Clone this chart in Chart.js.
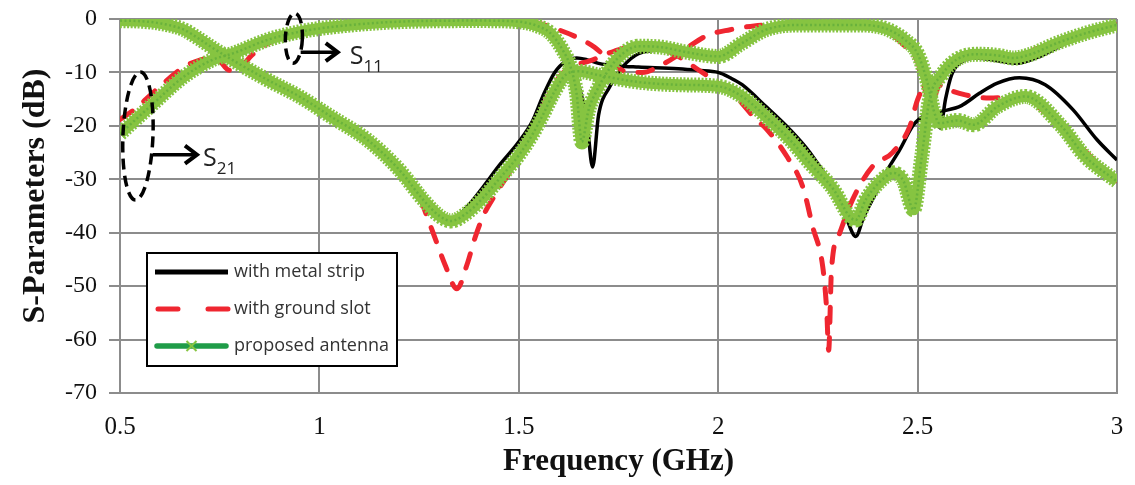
<!DOCTYPE html>
<html>
<head>
<meta charset="utf-8">
<script src="https://cdn.jsdelivr.net/npm/chart.js@4.4.0/dist/chart.umd.min.js"></script>
<style>
  html, body { margin: 0; padding: 0; background: #fff; }
  #wrap { width: 1135px; height: 485px; }
</style>
</head>
<body>
<div id="wrap"><canvas id="chart" width="1135" height="485"></canvas></div>
<script>
// values: [frequency GHz, dB]
const freqTicks = [0.5, 1, 1.5, 2, 2.5, 3];
const dbTicks = [0, -10, -20, -30, -40, -50, -60, -70];
const legendNames = ['with metal strip', 'with ground slot', 'proposed antenna'];

const metalS11 = [[0.50,-0.3],[0.55,-0.4],[0.60,-0.9],[0.66,-2.1],[0.70,-3.9],[0.73,-5.4],[0.785,-7.9],[0.87,-11.4],[0.95,-14.5],[1.03,-18.3],[1.12,-22.6],[1.20,-28.2],[1.26,-33.6],[1.30,-36.6],[1.33,-37.8],[1.37,-35.2],[1.41,-31.5],[1.45,-27.5],[1.50,-23],[1.535,-19],[1.56,-14.5],[1.59,-10],[1.62,-7.8],[1.645,-7.3],[1.67,-7.6],[1.70,-8.3],[1.75,-8.8],[1.80,-9.0],[1.90,-9.3],[1.95,-9.6],[2.00,-10],[2.03,-11],[2.06,-12.3],[2.12,-16.4],[2.18,-20.7],[2.23,-25],[2.29,-32],[2.32,-37],[2.345,-40.7],[2.365,-37],[2.387,-33.8],[2.42,-28.8],[2.455,-24.5],[2.49,-19.8],[2.52,-18],[2.56,-17.3],[2.61,-16.2],[2.655,-13.9],[2.70,-12],[2.755,-11],[2.82,-12.3],[2.89,-17],[2.95,-22.6],[3.00,-26.4]];
const metalS21 = [[0.50,-21.5],[0.575,-16.4],[0.66,-10.8],[0.73,-7.5],[0.785,-6.2],[0.87,-3.9],[0.95,-2.4],[1.03,-1.5],[1.20,-0.5],[1.40,-0.3],[1.50,-0.5],[1.55,-1.3],[1.58,-2.5],[1.61,-5.5],[1.63,-8.5],[1.65,-12.5],[1.67,-18.5],[1.685,-27.7],[1.70,-18],[1.728,-12.7],[1.76,-9],[1.80,-6.5],[1.86,-5.8],[1.92,-6.7],[2.00,-7.6],[2.06,-5],[2.12,-2.3],[2.20,-1.2],[2.35,-1.1],[2.42,-2],[2.47,-4.5],[2.50,-7],[2.525,-12],[2.545,-18],[2.557,-20.4],[2.57,-15],[2.585,-10.5],[2.61,-8],[2.65,-7.3],[2.70,-7.8],[2.75,-8.3],[2.80,-7.2],[2.87,-4.6],[2.93,-2.7],[3.00,-1.3]];

const slotS11 = [[0.50,-0.3],[0.55,-0.4],[0.60,-0.8],[0.66,-2.0],[0.70,-3.8],[0.73,-5.3],[0.785,-7.8],[0.87,-11.4],[0.95,-14.5],[1.03,-18.3],[1.12,-22.6],[1.20,-28.2],[1.244,-32],[1.27,-37],[1.29,-41],[1.315,-46],[1.345,-50.5],[1.37,-46],[1.39,-41],[1.41,-37],[1.44,-33],[1.47,-29.5],[1.50,-26],[1.54,-20],[1.57,-15],[1.60,-11],[1.63,-9],[1.68,-7.8],[1.74,-6],[1.80,-5],[1.85,-5.4],[1.90,-7],[1.95,-9.5],[2.00,-12],[2.036,-13.9],[2.096,-18.9],[2.12,-20.5],[2.172,-25.7],[2.212,-31.4],[2.237,-38.9],[2.262,-46.3],[2.272,-54.4],[2.277,-62],[2.284,-47],[2.305,-40],[2.337,-33.8],[2.387,-27.6],[2.437,-25],[2.48,-20.2],[2.50,-15.1],[2.53,-11.4],[2.57,-13],[2.62,-14.2],[2.68,-14.8],[2.75,-14.5],[2.82,-17.5],[2.89,-22.5],[2.95,-27],[3.00,-30.5]];
const slotS21 = [[0.50,-18.8],[0.535,-17],[0.59,-13.3],[0.66,-9],[0.70,-7.7],[0.74,-7.3],[0.775,-9.6],[0.80,-9.2],[0.83,-6.8],[0.87,-4.6],[0.95,-2.6],[1.03,-1.5],[1.20,-0.5],[1.40,-0.3],[1.50,-0.4],[1.55,-0.8],[1.58,-1.5],[1.645,-3.4],[1.69,-5.3],[1.74,-8.6],[1.77,-9.9],[1.81,-10],[1.86,-8.5],[1.89,-7.2],[1.93,-5],[1.975,-3],[2.03,-2],[2.09,-1.3],[2.20,-1],[2.35,-1.1],[2.42,-2.2],[2.47,-5.2],[2.50,-8],[2.52,-13.5],[2.535,-16],[2.55,-13],[2.575,-9],[2.61,-7],[2.68,-6.5],[2.74,-7.3],[2.80,-5.5],[2.87,-3.8],[2.93,-2.3],[3.00,-1.1]];

const propS11 = [[0.50,-0.3],[0.55,-0.4],[0.60,-0.8],[0.66,-2.0],[0.70,-3.8],[0.73,-5.3],[0.785,-7.8],[0.87,-11.4],[0.95,-14.5],[1.03,-18.3],[1.12,-22.6],[1.20,-28.2],[1.26,-33.8],[1.30,-36.8],[1.33,-37.8],[1.37,-36.3],[1.41,-33.5],[1.45,-30],[1.50,-25.5],[1.535,-21.5],[1.56,-18],[1.59,-13.5],[1.62,-10.3],[1.65,-9.8],[1.70,-10.5],[1.80,-11.8],[1.90,-12.3],[2.00,-12.6],[2.06,-14.5],[2.12,-18.3],[2.18,-22.6],[2.23,-27],[2.29,-32],[2.33,-37],[2.345,-37.6],[2.37,-33.8],[2.42,-29.5],[2.44,-28.8],[2.465,-30.4],[2.49,-35.7],[2.51,-26],[2.53,-15],[2.56,-10.5],[2.60,-7.5],[2.65,-6.6],[2.70,-6.8],[2.74,-7.3],[2.78,-6.7],[2.85,-4.5],[2.92,-2.7],[3.00,-1.1]];
const propS21 = [[0.50,-21.5],[0.575,-16.4],[0.66,-10.8],[0.73,-7.7],[0.785,-6.4],[0.87,-3.9],[0.95,-2.4],[1.03,-1.5],[1.20,-0.5],[1.40,-0.3],[1.50,-0.5],[1.55,-1.4],[1.58,-2.7],[1.61,-5.8],[1.63,-9],[1.645,-14],[1.658,-23],[1.675,-17],[1.695,-13.5],[1.73,-9],[1.76,-6.5],[1.80,-5.1],[1.86,-5.3],[1.92,-6.2],[2.00,-7],[2.06,-4.5],[2.12,-2],[2.20,-1.1],[2.35,-1.1],[2.42,-1.8],[2.47,-4],[2.50,-6.5],[2.525,-12],[2.54,-17],[2.555,-19.5],[2.60,-19],[2.64,-19.8],[2.70,-16.4],[2.77,-14.5],[2.86,-20],[2.92,-25.7],[3.00,-30.4]];

// callouts: ring centre, arrow (from, to, level), label anchor, all in [GHz, dB]
const calloutS11 = { ring: [0.936, -3.6], arrow: [0.953, 1.046, -6.2], label: [1.076, -8.4], sub: '11' };
const calloutS21 = { ring: [0.545, -21.9], arrow: [0.582, 0.693, -25.4], label: [0.708, -27.6], sub: '21' };

const BLACK = '#000000', RED = '#ef2630', DKGREEN = '#1f9c48', LTGREEN = '#86c441', MIDGREEN = '#69b23c';
const SERIF = '"Liberation Serif", "Times New Roman", serif';
const pts = arr => arr.map(p => ({ x: p[0], y: p[1] }));

function line(data, color, width, order, dash, cap) {
  return {
    data: pts(data), borderColor: color, borderWidth: width, borderDash: dash || [],
    pointRadius: 0, cubicInterpolationMode: 'monotone', fill: false, order: order,
    borderCapStyle: cap || 'butt'
  };
}

// proposed antenna: dark green line under a band of light green cross markers
function markedLine(data) {
  return [
    line(data, DKGREEN, 4, 5),
    line(data, LTGREEN, 15, 4, [2, 1.6]),
    line(data, LTGREEN, 11, 3),
    line(data, MIDGREEN, 2.5, 2, [2, 2.5])
  ];
}

function drawCallout(ctx, x, y, c, rx, ry) {
  ctx.strokeStyle = '#000';
  ctx.lineWidth = 3.5;
  ctx.setLineDash([11, 6]);
  ctx.beginPath();
  ctx.ellipse(x.getPixelForValue(c.ring[0]), y.getPixelForValue(c.ring[1]), rx, ry, 0.04, 0, Math.PI * 2);
  ctx.stroke();
  ctx.setLineDash([]);
  const x0 = x.getPixelForValue(c.arrow[0]), x1 = x.getPixelForValue(c.arrow[1]), ay = y.getPixelForValue(c.arrow[2]);
  ctx.lineWidth = 3.5;
  ctx.beginPath(); ctx.moveTo(x0, ay); ctx.lineTo(x1 - 2, ay); ctx.stroke();
  ctx.lineWidth = 4;
  ctx.lineJoin = 'miter';
  ctx.beginPath(); ctx.moveTo(x1 - 12, ay - 9); ctx.lineTo(x1, ay); ctx.lineTo(x1 - 12, ay + 9); ctx.stroke();
  const tx = x.getPixelForValue(c.label[0]), ty = y.getPixelForValue(c.label[1]);
  ctx.fillStyle = '#222';
  ctx.textBaseline = 'alphabetic';
  ctx.textAlign = 'left';
  ctx.font = '25px "Open Sans"';
  ctx.fillText('S', tx, ty);
  const w = ctx.measureText('S').width;
  ctx.font = '17px "Open Sans"';
  ctx.fillText(c.sub, tx + w, ty + 8);
}

const overlay = {
  id: 'overlay',
  afterDatasetsDraw(chart) {
    const { ctx, chartArea: a, scales: { x, y } } = chart;
    ctx.save();
    drawCallout(ctx, x, y, calloutS11, 8.5, 25);
    drawCallout(ctx, x, y, calloutS21, 15, 64);

    // legend box
    const lx = a.left + 27, ly = a.top + 234, lw = 250, lh = 113;
    ctx.fillStyle = '#fff';
    ctx.fillRect(lx, ly, lw, lh);
    ctx.lineWidth = 2;
    ctx.strokeStyle = '#000';
    ctx.strokeRect(lx, ly, lw, lh);
    const rows = [ly + 19, ly + 56, ly + 93];
    const s0 = lx + 8, s1 = lx + 81;
    ctx.lineWidth = 5;
    ctx.strokeStyle = BLACK;
    ctx.beginPath(); ctx.moveTo(s0, rows[0]); ctx.lineTo(s1, rows[0]); ctx.stroke();
    ctx.strokeStyle = RED;
    ctx.lineCap = 'round';
    ctx.setLineDash([20, 30]);
    ctx.beginPath(); ctx.moveTo(s0 + 3, rows[1]); ctx.lineTo(s1, rows[1]); ctx.stroke();
    ctx.setLineDash([]);
    ctx.strokeStyle = DKGREEN;
    ctx.lineWidth = 5.5;
    ctx.beginPath(); ctx.moveTo(s0 + 2, rows[2]); ctx.lineTo(s1 - 2, rows[2]); ctx.stroke();
    ctx.lineCap = 'butt';
    const mx = (s0 + s1) / 2;
    ctx.strokeStyle = LTGREEN;
    ctx.lineWidth = 2;
    ctx.beginPath();
    ctx.moveTo(mx - 5, rows[2] - 5); ctx.lineTo(mx + 5, rows[2] + 5);
    ctx.moveTo(mx + 5, rows[2] - 5); ctx.lineTo(mx - 5, rows[2] + 5);
    ctx.stroke();
    ctx.fillStyle = '#333';
    ctx.font = '18px "Open Sans"';
    ctx.textBaseline = 'middle';
    legendNames.forEach((n, i) => ctx.fillText(n, lx + 87, rows[i]));

    // vertical axis title
    ctx.translate(36, (a.top + a.bottom) / 2 - 10);
    ctx.rotate(-Math.PI / 2);
    ctx.fillStyle = '#111';
    ctx.font = 'bold 32px ' + SERIF;
    ctx.textAlign = 'center';
    ctx.textBaseline = 'middle';
    ctx.fillText('S-Parameters (dB)', 0, 0);
    ctx.restore();
  }
};

const gridColor = '#8c8c8c';
const noPad = s => { s.paddingLeft = 0; s.paddingRight = 0; s.paddingTop = 0; s.paddingBottom = 0; };

new Chart(document.getElementById('chart'), {
  type: 'line',
  data: {
    datasets: [
      line(metalS11, BLACK, 3.5, 7),
      line(metalS21, BLACK, 3.5, 7),
      line(slotS11, RED, 5, 6, [15, 15], 'round'),
      line(slotS21, RED, 5, 6, [15, 15], 'round'),
      ...markedLine(propS11),
      ...markedLine(propS21)
    ]
  },
  options: {
    responsive: false,
    animation: false,
    devicePixelRatio: 1,
    layout: { padding: { top: 19, right: 18, bottom: 0, left: 0 } },
    plugins: { legend: { display: false }, tooltip: { enabled: false } },
    scales: {
      x: {
        type: 'linear', min: 0.5, max: 3,
        afterBuildTicks: s => { s.ticks = freqTicks.map(v => ({ value: v })); },
        afterFit: s => { s.height = 92; noPad(s); },
        grid: { color: gridColor, lineWidth: 2, drawTicks: false },
        border: { color: gridColor, width: 2 },
        ticks: { color: '#111', padding: 19, callback: v => String(v), font: { family: SERIF, size: 25 } },
        title: { display: true, text: 'Frequency (GHz)', color: '#111', padding: { top: 5 },
          font: { family: SERIF, size: 31, weight: 'bold' } }
      },
      y: {
        type: 'linear', min: -70, max: 0,
        afterBuildTicks: s => { s.ticks = dbTicks.map(v => ({ value: v })); },
        afterFit: s => { s.width = 120; noPad(s); },
        grid: { color: gridColor, lineWidth: 2, tickLength: 11 },
        border: { color: gridColor, width: 2 },
        ticks: { color: '#111', padding: 12, callback: v => String(v), font: { family: SERIF, size: 24 } },
        title: { display: false }
      }
    }
  },
  plugins: [overlay]
});
</script>
</body>
</html>
